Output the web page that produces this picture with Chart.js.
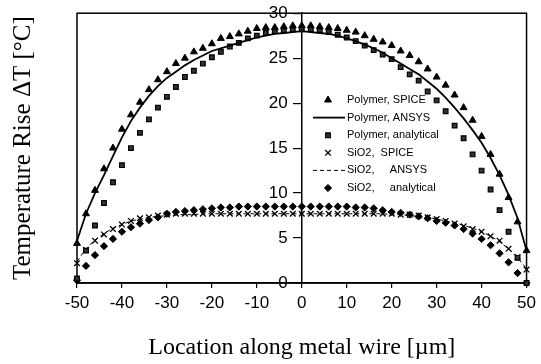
<!DOCTYPE html>
<html>
<head>
<meta charset="utf-8">
<script src="https://cdn.jsdelivr.net/npm/chart.js@4.4.1/dist/chart.umd.min.js"></script>
<style>
  html, body { margin: 0; padding: 0; background: #fff; }
  #wrap { width: 541px; height: 364px; }
</style>
</head>
<body>
<div id="wrap"><canvas id="c" width="541" height="364"></canvas></div>
<script>
'use strict';

// ── DATA ──────────────────────────────────────────────────────────
const X_POS = [-50,-48,-46,-44,-42,-40,-38,-36,-34,-32,-30,-28,-26,-24,-22,-20,-18,-16,-14,-12,-10,-8,-6,-4,-2,
  0,2,4,6,8,10,12,14,16,18,20,22,24,26,28,30,32,34,36,38,40,42,44,46,48,50];

const POLY_SPICE = [4.4,7.7,10.3,12.7,15.0,17.1,18.7,20.1,21.5,22.6,23.5,24.4,25.0,25.7,26.1,26.6,27.2,27.4,27.7,28.0,28.3,28.4,28.4,28.5,28.6,
  28.6,28.6,28.5,28.4,28.3,28.1,27.9,27.5,27.1,26.8,26.4,25.8,25.3,24.6,23.8,22.9,22.0,20.9,19.5,18.1,16.3,14.3,12.1,9.5,6.8,3.6];
const POLY_ANSYS = [4.7,7.7,10.0,12.0,14.1,16.2,18.0,19.5,20.8,21.9,22.8,23.5,24.2,24.8,25.3,25.8,26.1,26.4,26.7,27.0,27.3,27.5,27.7,27.8,27.9,
  28.0,27.9,27.8,27.7,27.5,27.2,26.9,26.5,26.1,25.6,25.0,24.4,23.8,23.2,22.4,21.6,20.6,19.5,18.3,17.0,15.6,13.9,12.0,9.8,7.2,3.6];
const POLY_ANALYTIC = [0.5,3.6,6.4,8.9,11.2,13.1,15.0,16.7,18.2,19.5,20.7,21.8,22.9,23.6,24.4,25.1,25.7,26.3,26.7,27.2,27.5,27.8,28.0,28.1,28.2,
  28.2,28.2,28.1,27.9,27.6,27.3,26.9,26.4,25.9,25.4,24.9,24.0,23.2,22.5,21.3,20.3,19.1,17.5,16.1,14.3,12.5,10.4,8.1,5.7,2.8,0.0];
const SIO2_SPICE = [2.2,3.7,4.7,5.4,6.0,6.5,6.9,7.2,7.3,7.5,7.6,7.7,7.7,7.7,7.7,7.7,7.7,7.7,7.7,7.7,7.7,7.7,7.7,7.7,7.7,
  7.7,7.7,7.7,7.7,7.7,7.7,7.7,7.7,7.7,7.7,7.7,7.6,7.6,7.5,7.3,7.1,6.9,6.6,6.3,6.0,5.7,5.2,4.7,3.8,2.9,1.5];
const SIO2_ANSYS = [2.4,3.8,4.8,5.5,6.1,6.5,6.9,7.1,7.3,7.4,7.5,7.6,7.6,7.6,7.7,7.7,7.7,7.7,7.7,7.7,7.7,7.7,7.7,7.7,7.7,
  7.7,7.7,7.7,7.7,7.7,7.7,7.7,7.7,7.7,7.7,7.6,7.6,7.5,7.4,7.3,7.1,6.9,6.7,6.4,6.1,5.7,5.2,4.6,3.8,2.8,1.6];
const SIO2_ANALYTIC = [0.3,1.9,3.1,4.1,4.9,5.7,6.2,6.6,7.0,7.3,7.7,7.9,8.0,8.1,8.2,8.3,8.4,8.4,8.5,8.5,8.5,8.5,8.5,8.5,8.5,
  8.5,8.5,8.5,8.5,8.5,8.5,8.4,8.4,8.3,8.1,7.9,7.8,7.6,7.4,7.2,6.9,6.7,6.4,6.0,5.5,4.9,4.2,3.3,2.3,1.1,0.0];

const SERIES_LABELS = ['Polymer, SPICE', 'Polymer, ANSYS', 'Polymer, analytical',
  'SiO2,  SPICE', 'SiO2,     ANSYS', 'SiO2,     analytical'];
const X_TICKS = [-50,-40,-30,-20,-10,0,10,20,30,40,50];
const Y_TICKS = [0,5,10,15,20,25,30];

const X_TITLE = 'Location along metal wire [\u00b5m]';
const Y_TITLE = 'Temperature Rise \u0394T [\u00b0C]';

// ── STYLE ─────────────────────────────────────────────────────────
const INK = '#000';
const SANS = '"Liberation Sans", Arial, sans-serif';
const SERIF = '"Liberation Serif", "Times New Roman", serif';

function pts(ys) {
  return X_POS.map((x, i) => ({ x, y: ys[i] }));
}

// ── PLUGINS ───────────────────────────────────────────────────────
// box around the plot area (top, left, right edges)
const framePlugin = {
  id: 'frame',
  beforeDatasetsDraw(chart) {
    const { ctx, chartArea: a } = chart;
    ctx.save();
    ctx.strokeStyle = INK;
    ctx.lineWidth = 1.5;
    ctx.strokeRect(a.left, a.top, a.right - a.left, a.bottom - a.top);
    ctx.restore();
  }
};

// legend drawn inside the plot, right of the centre axis
const insideLegend = {
  id: 'insideLegend',
  afterDatasetsDraw(chart) {
    const ctx = chart.ctx;
    const symX = 328, lineX0 = 313, lineX1 = 345, textX = 347, rowY = 100, rowGap = 17.6;
    ctx.save();
    ctx.font = '11px ' + SANS;
    ctx.textBaseline = 'middle';
    chart.data.datasets.forEach((ds, i) => {
      const y = rowY + i * rowGap;
      ctx.strokeStyle = INK;
      ctx.fillStyle = INK;
      if (ds.showLine) {
        ctx.beginPath();
        ctx.lineWidth = ds.borderWidth;
        ctx.setLineDash(ds.borderDash || []);
        ctx.moveTo(lineX0, y);
        ctx.lineTo(lineX1, y);
        ctx.stroke();
        ctx.setLineDash([]);
      } else {
        ctx.fillStyle = ds.backgroundColor;
        ctx.lineWidth = ds.borderWidth;
        Chart.helpers.drawPoint(ctx, {
          pointStyle: ds.pointStyle, radius: ds.pointRadius, borderWidth: ds.borderWidth, rotation: 0
        }, symX, y);
      }
      ctx.fillStyle = INK;
      ctx.fillText(ds.label, textX, y);
    });
    ctx.restore();
  }
};

// ── CHART ─────────────────────────────────────────────────────────
const ctx = document.getElementById('c').getContext('2d');

new Chart(ctx, {
  type: 'scatter',
  data: {
    datasets: [
      { label: SERIES_LABELS[0], data: pts(POLY_SPICE), pointStyle: 'triangle', pointRadius: 4,
        backgroundColor: INK, borderColor: INK, borderWidth: 1 },
      { label: SERIES_LABELS[1], data: pts(POLY_ANSYS), showLine: true, pointRadius: 0,
        borderColor: INK, borderWidth: 1.8 },
      { label: SERIES_LABELS[2], data: pts(POLY_ANALYTIC), pointStyle: 'rect', pointRadius: 3.3,
        backgroundColor: '#333', borderColor: INK, borderWidth: 1.2 },
      { label: SERIES_LABELS[3], data: pts(SIO2_SPICE), pointStyle: 'crossRot', pointRadius: 4,
        backgroundColor: INK, borderColor: INK, borderWidth: 1.3 },
      { label: SERIES_LABELS[4], data: pts(SIO2_ANSYS), showLine: true, pointRadius: 0,
        borderColor: INK, borderWidth: 1, borderDash: [4, 3] },
      { label: SERIES_LABELS[5], data: pts(SIO2_ANALYTIC), pointStyle: 'rectRot', pointRadius: 3.6,
        backgroundColor: INK, borderColor: INK, borderWidth: 1 }
    ].map(ds => ({ ...ds, clip: false, yAxisID: 'y', xAxisID: 'x' }))
  },
  options: {
    responsive: false,
    animation: false,
    events: [],
    layout: { padding: { top: 4, right: 11, left: 0, bottom: 0 } },
    plugins: { legend: { display: false }, tooltip: { enabled: false } },
    scales: {
      y: {
        type: 'linear',
        position: { x: 0 },
        min: 0, max: 30,
        afterBuildTicks: s => { s.ticks = Y_TICKS.map(v => ({ value: v })); },
        // axis sits mid-plot: labels are right-aligned on it, so pad them off with spaces
        ticks: { color: INK, font: { family: SANS, size: 17 }, callback: v => v + '   ' },
        grid: { drawOnChartArea: false, drawTicks: true, tickLength: 8, color: INK, lineWidth: 1.2 },
        border: { display: true, color: INK, width: 1.5 }
      },
      x: {
        type: 'linear',
        position: 'bottom',
        min: -50, max: 50,
        afterBuildTicks: s => { s.ticks = X_TICKS.map(v => ({ value: v })); },
        afterFit: s => { s.height = 81; },
        ticks: { color: INK, font: { family: SANS, size: 17 }, padding: 5, maxRotation: 0 },
        grid: { drawOnChartArea: false, drawTicks: true, tickLength: 5, color: INK, lineWidth: 1.2 },
        border: { display: true, color: INK, width: 1.5 },
        title: { display: true, text: X_TITLE, color: INK,
          font: { family: SERIF, size: 24 }, padding: { top: 0, bottom: 2 } }
      },
      yTitle: {
        type: 'linear',
        position: 'left',
        min: 0, max: 30,
        afterFit: s => { s.width = 77; },
        ticks: { display: false },
        grid: { display: false },
        border: { display: false },
        title: { display: true, text: Y_TITLE, color: INK,
          font: { family: SERIF, size: 25 }, padding: { top: 8, bottom: 0 } }
      }
    }
  },
  plugins: [framePlugin, insideLegend]
});
</script>
</body>
</html>
